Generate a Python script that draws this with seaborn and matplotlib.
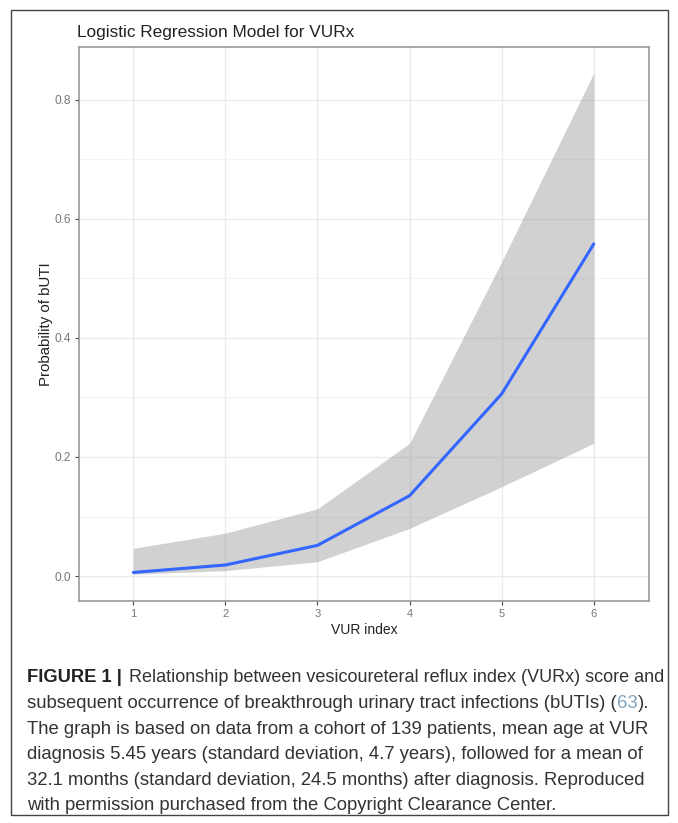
import matplotlib
matplotlib.use("Agg")
import matplotlib.pyplot as plt
import seaborn as sns
import pandas as pd
from matplotlib.patches import Rectangle
from matplotlib.ticker import MultipleLocator

# Data
vur_index = [1, 2, 3, 4, 5, 6]
prob_fit = [0.006, 0.0185, 0.0515, 0.135, 0.306, 0.558]
prob_lower = [0.003, 0.009, 0.024, 0.080, 0.150, 0.223]
prob_upper = [0.0465, 0.072, 0.113, 0.223, 0.528, 0.845]

x_ticks = [1, 2, 3, 4, 5, 6]
y_ticks = [0.0, 0.2, 0.4, 0.6, 0.8]
y_tick_labels = ["0.0", "0.2", "0.4", "0.6", "0.8"]

title = "Logistic Regression Model for VURx"
x_label = "VUR index"
y_label = "Probability of bUTI"
caption_lines = [
    "Relationship between vesicoureteral reflux index (VURx) score and",
    ["subsequent occurrence of breakthrough urinary tract infections (bUTIs) (", "63", ")."],
    "The graph is based on data from a cohort of 139 patients, mean age at VUR",
    "diagnosis 5.45 years (standard deviation, 4.7 years), followed for a mean of",
    "32.1 months (standard deviation, 24.5 months) after diagnosis. Reproduced",
    "with permission purchased from the Copyright Clearance Center.",
]

df = pd.DataFrame({"vur": vur_index, "fit": prob_fit,
                   "lo": prob_lower, "hi": prob_upper})

sns.set_theme(style="white")
plt.rcParams["font.family"] = ["Liberation Sans", "DejaVu Sans"]

W, H = 678, 823
fig = plt.figure(figsize=(W / 100, H / 100), dpi=100)

# outer frame
fig.patches.append(Rectangle((11 / W, 1 - 815 / H), 657 / W, 805 / H,
                             transform=fig.transFigure, fill=False,
                             edgecolor="#444444", linewidth=1.0))

ax = fig.add_axes([79 / W, 1 - 601 / H, 570 / W, 554 / H])
ax.fill_between(df["vur"], df["lo"], df["hi"], color="#999999", alpha=0.45,
                linewidth=0, zorder=2)
sns.lineplot(data=df, x="vur", y="fit", ax=ax, color="#3366FF",
             linewidth=2.2, zorder=3)

ax.set_xlim(0.41, 6.6)
ax.set_ylim(-0.042, 0.889)
ax.set_xticks(x_ticks)
ax.set_xticklabels([str(v) for v in x_ticks])
ax.set_yticks(y_ticks)
ax.set_yticklabels(y_tick_labels)
ax.yaxis.set_minor_locator(MultipleLocator(0.1))

ax.grid(True, which="major", color="#ebebeb", linewidth=1.0, zorder=0)
ax.grid(True, which="minor", axis="y", color="#f2f2f2", linewidth=0.8, zorder=0)
ax.set_axisbelow(True)
for s in ax.spines.values():
    s.set_visible(True)
    s.set_color("#999999")
    s.set_linewidth(1.2)

ax.tick_params(axis="x", which="major", direction="out", length=3,
               width=0.8, color="#444444", labelsize=8, labelcolor="#777777",
               pad=3, bottom=True)
ax.tick_params(axis="y", which="major", direction="out", length=3,
               width=0.8, color="#444444", labelsize=8.6, labelcolor="#777777",
               pad=2.5, left=True)
ax.tick_params(axis="both", which="minor", length=0)

ax.set_xlabel(x_label, fontsize=10, color="#222222", labelpad=3)
ax.set_ylabel(y_label, fontsize=10.8, color="#222222", labelpad=1)
fig.text(77 / W, 1 - 32 / H, title, fontsize=12.4, color="#222222",
         ha="left", va="center")

# caption
cap_x = 27 / W
cap_y0 = 678
dy = 25.6
fs = 13.35
cap_font = ["Liberation Sans", "DejaVu Sans"]
t = fig.text(cap_x, 1 - cap_y0 / H, "FIGURE 1 |", fontsize=13.2,
             fontweight="bold", color="#222222", ha="left", va="center",
             family=cap_font)
fig.canvas.draw()
bb = t.get_window_extent()
fig.text(bb.x1 / W + 7 / W, 1 - cap_y0 / H, caption_lines[0], fontsize=12.95,
         color="#333333", ha="left", va="center", family=cap_font)
for i, line in enumerate(caption_lines[1:], start=1):
    y = 1 - (cap_y0 + i * dy) / H
    if isinstance(line, list):
        x = cap_x
        for j, part in enumerate(line):
            col = "#7fa3bd" if j == 1 else "#333333"
            tt = fig.text(x, y, part, fontsize=fs, color=col, ha="left",
                          va="center", family=cap_font)
            fig.canvas.draw()
            x = tt.get_window_extent().x1 / W
    else:
        fig.text(cap_x, y, line, fontsize=fs, color="#333333", ha="left",
                 va="center", family=cap_font)

fig.savefig("out.png", dpi=100, facecolor="white")
